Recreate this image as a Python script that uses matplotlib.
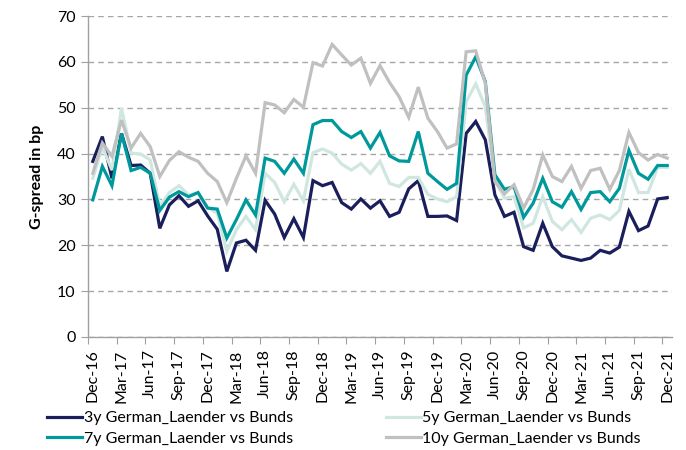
import matplotlib
matplotlib.use("Agg")
import matplotlib.pyplot as plt
import numpy as np

months = ["Dec-16", "Mar-17", "Jun-17", "Sep-17", "Dec-17", "Mar-18", "Jun-18", "Sep-18",
          "Dec-18", "Mar-19", "Jun-19", "Sep-19", "Dec-19", "Mar-20", "Jun-20", "Sep-20",
          "Dec-20", "Mar-21", "Jun-21", "Sep-21", "Dec-21"]

y3 = [38.3, 43.7, 34.6, 44.4, 37.4, 37.5, 35.7, 23.7, 28.8, 30.8,
      28.5, 29.7, 26.4, 23.5, 14.3, 20.5, 21.1, 18.9, 29.8, 26.8,
      21.7, 25.8, 21.7, 34.1, 33.0, 33.7, 29.3, 27.9, 30.1, 28.1,
      29.7, 26.3, 27.2, 32.3, 34.1, 26.3, 26.3, 26.4, 25.4, 44.4,
      47.0, 43.0, 31.0, 26.3, 27.2, 19.7, 18.9, 24.8, 19.7, 17.7,
      17.2, 16.7, 17.2, 18.9, 18.3, 19.6, 27.4, 23.2, 24.2, 30.1, 30.4]

y5 = [34.6, 41.5, 36.4, 49.9, 40.1, 39.9, 38.6, 28.5, 31.5, 33.0,
      31.0, 31.4, 28.3, 27.0, 18.7, 23.4, 26.3, 23.4, 35.7, 33.7,
      29.5, 33.3, 29.7, 40.2, 41.0, 40.1, 37.7, 36.4, 37.8, 35.7,
      38.3, 33.5, 32.8, 34.8, 34.8, 31.1, 30.1, 29.5, 30.6, 51.3,
      55.2, 50.2, 34.3, 30.3, 30.6, 23.8, 24.8, 30.6, 25.2, 23.4,
      25.6, 22.8, 25.9, 26.6, 25.6, 27.6, 36.6, 31.5, 31.5, 37.0, 37.0]

y7 = [29.9, 37.2, 33.0, 44.4, 36.3, 37.0, 35.7, 27.6, 30.5, 31.7,
      30.6, 31.5, 28.1, 27.9, 21.6, 25.6, 29.9, 26.6, 39.0, 38.3,
      35.7, 38.8, 35.7, 46.3, 47.2, 47.2, 44.8, 43.5, 44.8, 41.2,
      44.6, 39.5, 38.4, 38.3, 44.8, 35.7, 33.9, 32.2, 33.5, 57.1,
      61.1, 55.7, 35.4, 32.2, 32.8, 26.1, 29.2, 34.6, 29.5, 28.3,
      31.7, 27.8, 31.5, 31.7, 29.5, 32.4, 40.7, 35.7, 34.4, 37.4, 37.4]

y10 = [35.7, 42.3, 39.4, 47.3, 41.2, 44.4, 41.5, 35.0, 38.5, 40.4,
       39.2, 38.3, 35.7, 33.9, 29.3, 34.6, 39.5, 35.7, 51.1, 50.6,
       48.9, 51.8, 50.1, 59.8, 59.1, 63.8, 61.5, 59.3, 60.8, 55.3,
       59.2, 55.5, 52.4, 47.9, 54.5, 47.7, 44.8, 41.2, 42.1, 62.2,
       62.4, 55.3, 33.9, 31.2, 33.2, 28.1, 32.2, 39.7, 35.0, 33.9,
       37.2, 32.4, 36.3, 36.8, 32.2, 36.3, 44.6, 40.2, 38.6, 39.8, 39.0]

labels = ["3y German_Laender vs Bunds", "5y German_Laender vs Bunds",
          "7y German_Laender vs Bunds", "10y German_Laender vs Bunds"]
colors = ["#1a1f5c", "#cfe6e1", "#00999b", "#c0c0c0"]

plt.rcParams['font.family'] = ['Lato', 'DejaVu Sans']

fig = plt.figure(figsize=(6.86, 4.5), dpi=100)
ax = fig.add_axes([88/686, 1-337/450, (672-88)/686, (337-16)/450])

x = np.arange(len(y3))
lines = []
for vals, c, lab in zip([y3, y5, y7, y10], colors, labels):
    ln, = ax.plot(x, vals, color=c, lw=2.3, label=lab, solid_joinstyle='miter')
    lines.append(ln)

ax.set_xlim(-0.5, len(y3) - 0.5)
ax.set_ylim(0, 70)
ax.set_yticks(np.arange(0, 71, 10))
ax.yaxis.grid(True, linestyle=(0, (4, 3)), color="#a6a6a6", lw=1)
ax.set_axisbelow(True)

ax.set_xticks(np.arange(-0.5, len(y3), 3))
ax.set_xticklabels([])
ax.set_xticks(np.arange(0, len(y3), 3), minor=True)
ax.set_xticklabels(months, minor=True, rotation=90)
ax.tick_params(axis='x', which='minor', length=0, pad=9, labelsize=11.5, colors="#000000")
ax.tick_params(axis='x', which='major', length=5, color="#a0a0a0")
ax.tick_params(axis='y', length=5, color="#a0a0a0", labelsize=11.5, pad=4)

for s in ["top", "right"]:
    ax.spines[s].set_visible(False)
for s in ["left", "bottom"]:
    ax.spines[s].set_color("#a0a0a0")
    ax.spines[s].set_linewidth(1)

ax.set_ylabel("G-spread in bp", fontsize=11.5, fontweight='bold', labelpad=9)

fig.legend([lines[0], lines[2], lines[1], lines[3]],
           [labels[0], labels[2], labels[1], labels[3]],
           ncol=2, frameon=False, loc='upper left',
           bbox_to_anchor=(47/686, 1-411/450), fontsize=11.5,
           handlelength=2.2, handletextpad=0.1, columnspacing=5.8,
           labelspacing=0.4, borderaxespad=0, borderpad=0)

fig.savefig("out.png", dpi=100)
